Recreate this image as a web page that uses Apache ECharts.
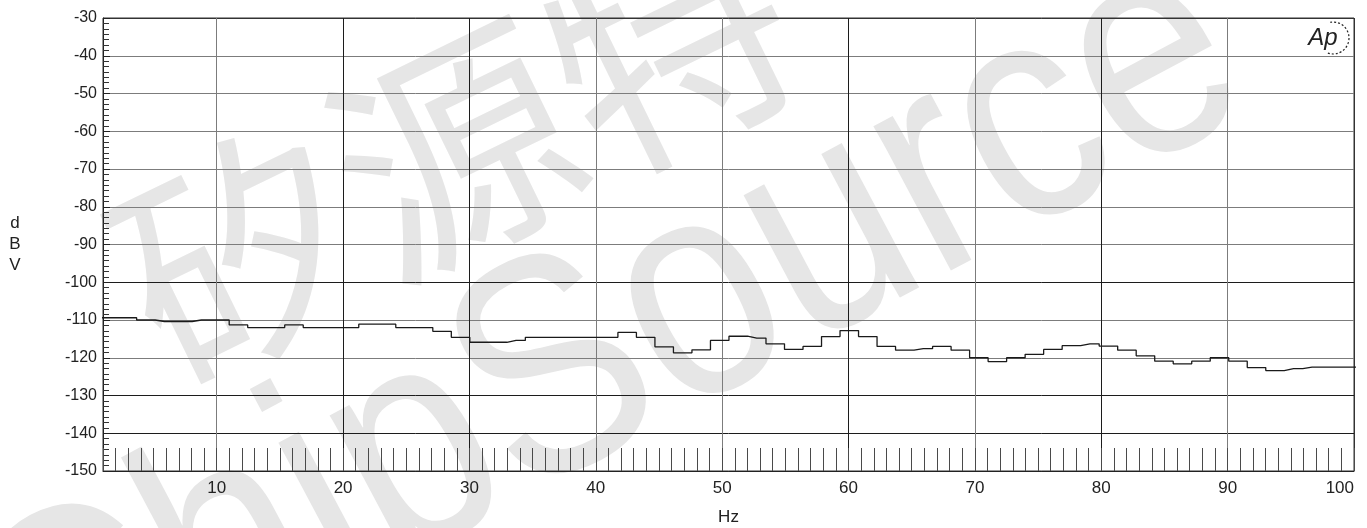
<!DOCTYPE html>
<html>
<head>
<meta charset="utf-8">
<script src="https://cdn.jsdelivr.net/npm/echarts@6/dist/echarts.min.js"></script>
<style>
  html, body { margin: 0; padding: 0; background: #fff; }
  #chart { width: 1367px; height: 528px; }
</style>
</head>
<body>
<div id="chart"></div>
<script>
// FFT bin centre frequencies (Hz)
const freqs = [
  0, 1.465, 2.930, 4.395, 5.859, 7.324, 8.789, 10.254, 11.719, 13.184,
  14.648, 16.113, 17.578, 19.043, 20.508, 21.973, 23.438, 24.902, 26.367, 27.832,
  29.297, 30.762, 32.227, 33.691, 35.156, 36.621, 38.086, 39.551, 41.016, 42.480,
  43.945, 45.410, 46.875, 48.340, 49.805, 51.270, 52.734, 54.199, 55.664, 57.129,
  58.594, 60.059, 61.523, 62.988, 64.453, 65.918, 67.383, 68.848, 70.313, 71.777,
  73.242, 74.707, 76.172, 77.637, 79.102, 80.566, 82.031, 83.496, 84.961, 86.426,
  87.891, 89.355, 90.820, 92.285, 93.750, 95.215, 96.680, 98.145, 99.609, 101.074
];
// level per bin (dBV)
const levels = [
  -109.4, -109.4, -109.4, -110.0, -110.4, -110.4, -110.0, -110.0, -111.3, -112.0,
  -112.0, -111.3, -112.0, -112.0, -112.0, -111.1, -111.1, -112.0, -112.0, -113.0,
  -114.6, -115.9, -115.9, -115.4, -114.6, -114.6, -114.6, -114.6, -114.6, -113.3,
  -114.6, -117.1, -118.7, -117.9, -115.4, -114.3, -114.8, -116.3, -117.8, -117.0,
  -114.4, -112.8, -114.4, -117.0, -118.0, -117.6, -117.0, -118.0, -120.0, -121.0,
  -120.0, -119.1, -117.8, -116.8, -116.3, -116.9, -118.0, -119.5, -120.9, -121.6,
  -120.9, -120.0, -120.9, -122.6, -123.4, -122.9, -122.5, -122.5, -122.5, -122.5
];
const xRange = [1, 100];
const yRange = [-150, -30];
const yStep = 10;
const xName = 'Hz';
const yName = 'd\nB\nV';
const watermarkCJK = '矽源特';
const watermarkLatin = 'ChipSource';
const logoText = 'Ap';

const G = '#7c7c7c', D = '#1c1c1c', E = '#333';
const chart = echarts.init(document.getElementById('chart'), null, { renderer: 'canvas' });
const FONT = '"Liberation Sans", Arial, sans-serif';

chart.setOption({
  animation: false,
  backgroundColor: '#fff',
  grid: {
    left: 103, right: 13, top: 18, bottom: 57,
    show: true, borderColor: '#333', borderWidth: 1,
    outerBoundsMode: 'none', containLabel: false
  },
  xAxis: [
    {
      type: 'value', min: xRange[0], max: xRange[1], splitNumber: 10,
      name: xName, nameLocation: 'middle', nameGap: 38,
      nameTextStyle: { fontFamily: FONT, fontSize: 17, color: '#222' },
      axisLine: { show: true, lineStyle: { color: '#222', width: 1 } },
      axisTick: { show: false },
      axisLabel: {
        fontFamily: FONT, fontSize: 17, color: '#222', margin: 9,
        showMinLabel: false, alignMaxLabel: 'right'
      },
      splitLine: {
        show: true,
        lineStyle: { color: [E, G, D, D, G, G, D, G, D, G, E], width: 1 }
      }
    },
    {
      type: 'value', min: xRange[0], max: xRange[1], interval: 1,
      position: 'bottom',
      axisLine: { show: false },
      axisTick: { show: true, inside: true, length: 23, lineStyle: { color: '#4a4a4a', width: 1 } },
      axisLabel: { show: false },
      splitLine: { show: false }
    }
  ],
  yAxis: {
    type: 'value', min: yRange[0], max: yRange[1], interval: yStep,
    name: yName, nameLocation: 'middle', nameGap: 88, nameRotate: 0,
    nameTextStyle: {
      fontFamily: FONT, fontSize: 17, color: '#222', lineHeight: 21,
      align: 'center', verticalAlign: 'middle'
    },
    axisLine: { show: true, lineStyle: { color: '#222', width: 1 } },
    axisTick: { show: true, inside: true, length: 7, lineStyle: { color: '#222' } },
    minorTick: { show: true, splitNumber: 7, length: 6, lineStyle: { color: '#333' } },
    axisLabel: { fontFamily: FONT, fontSize: 16, color: '#222', margin: 6 },
    splitLine: {
      show: true,
      lineStyle: { color: [E, D, D, G, G, D, G, G, G, G, G, G, E], width: 1 }
    }
  },
  graphic: [
    {
      type: 'text', z: -10, x: 455, y: 150, rotation: Math.PI * 26 / 180,
      style: {
        text: watermarkCJK, x: 0, y: 0, align: 'center', verticalAlign: 'middle',
        font: 'normal 240px "Noto Sans CJK SC", sans-serif', fill: '#e6e6e6'
      }
    },
    {
      type: 'text', z: -10, x: 610, y: 355, rotation: Math.PI * 28 / 180,
      scaleX: 0.85, scaleY: 1,
      style: {
        text: watermarkLatin, x: 0, y: 0, align: 'center', verticalAlign: 'middle',
        font: 'normal 310px "Liberation Sans", Arial, sans-serif', fill: '#e6e6e6'
      }
    },
    {
      type: 'text', z: 10, x: 1323, y: 38,
      style: {
        text: logoText, x: 0, y: 0, align: 'center', verticalAlign: 'middle',
        font: 'italic 24px "Liberation Sans", Arial, sans-serif', fill: '#222'
      }
    },
    {
      type: 'arc', z: 10,
      shape: { cx: 1333, cy: 38, r: 16, startAngle: -1.75, endAngle: 1.95 },
      style: { stroke: '#222', fill: 'none', lineWidth: 1.2, lineDash: [2, 2] }
    }
  ],
  series: [
    {
      type: 'line', xAxisIndex: 0, step: 'middle', symbol: 'none', clip: true,
      data: freqs.map((f, i) => [f, levels[i]]),
      lineStyle: { color: '#1a1a1a', width: 1.3 },
      z: 5
    }
  ]
});
</script>
</body>
</html>
